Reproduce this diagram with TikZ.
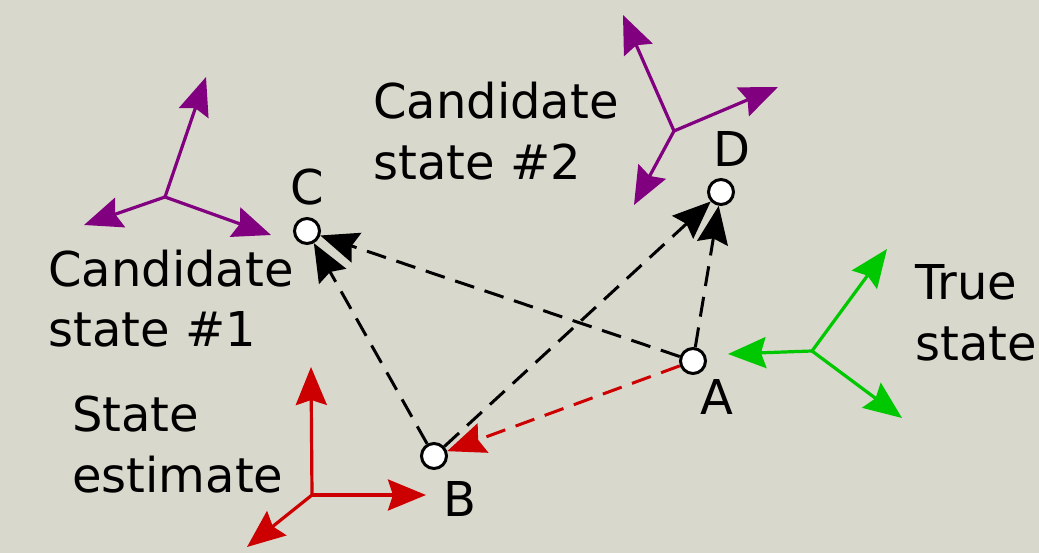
\documentclass[tikz,border=0pt]{standalone}
\usepackage{fontspec}
\setmainfont{DejaVu Sans}
\usetikzlibrary{arrows.meta}
\definecolor{bg}{RGB}{217,216,204}
\definecolor{fpurple}{RGB}{128,0,128}
\definecolor{fgreen}{RGB}{0,200,0}
\definecolor{fred}{RGB}{204,0,0}
\begin{document}
\begin{tikzpicture}[x=1pt,y=-1pt,
  tip/.style={-{Stealth[length=38pt,width=31pt,inset=5pt]}},
  frame/.style={tip,line width=3.2pt},
  pt/.style={circle,draw=black,fill=white,line width=3pt,minimum size=25pt,inner sep=0pt},
  link/.style={tip,line width=3pt,dash pattern=on 20pt off 11pt},
  lbl/.style={font=\fontsize{48}{61}\selectfont,inner sep=0pt},
  txt/.style={lbl,align=left,anchor=base west}]
\fill[bg] (0,0) rectangle (1039,553);
\useasboundingbox (0,0) rectangle (1039,553);
% frames
\coordinate (f1) at (165,197);
\coordinate (f1a) at (206,77);
\coordinate (f1b) at (84,225);
\coordinate (f1c) at (271,235);
\coordinate (f2) at (674,131);
\coordinate (f2a) at (623,15);
\coordinate (f2b) at (778,87);
\coordinate (f2c) at (634,205);
\coordinate (f3) at (812,351);
\coordinate (f3a) at (887,249);
\coordinate (f3b) at (728,354);
\coordinate (f3c) at (902,418);
\coordinate (f4) at (312,495);
\coordinate (f4a) at (311,367);
\coordinate (f4b) at (426,495);
\coordinate (f4c) at (247,547);
\foreach \a in {a,b,c}{
  \draw[frame,fpurple] (f1) -- (f1\a);
  \draw[frame,fpurple] (f2) -- (f2\a);
  \draw[frame,fgreen] (f3) -- (f3\a);
  \draw[frame,fred] (f4) -- (f4\a);
}
% points
\node[pt] (C) at (307,231) {};
\node[pt] (D) at (721,192) {};
\node[pt] (A) at (693,361) {};
\node[pt] (B) at (434,456) {};
\draw[link,black] (A) -- (C);
\draw[link,black] (B) -- (C);
\draw[link,black] (B) -- (D);
\draw[link,black] (A) -- (D);
\draw[link,fred] (A) -- (B);
% point labels
\node[lbl,anchor=base] (lC) at (307,205) {C};
\node[lbl,anchor=base] (lD) at (732,167) {D};
\node[lbl,anchor=base] (lA) at (717,414) {A};
\node[lbl,anchor=base] (lB) at (460,516) {B};
% texts
\node[txt] (t2) at (373,180) {Candidate\\state \#2};
\node[txt] (t1) at (48,347) {Candidate\\state \#1};
\node[txt] (te) at (72,492) {State\\estimate};
\node[txt] (tt) at (915,360) {True\\state};
\end{tikzpicture}
\end{document}
